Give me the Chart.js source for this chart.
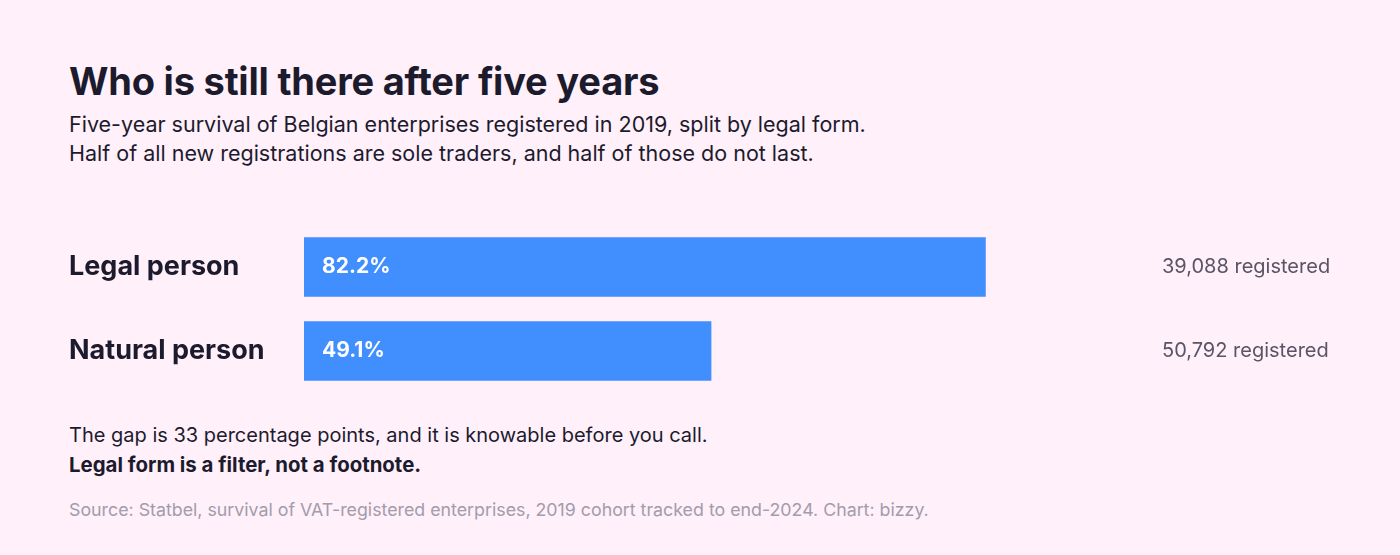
<!DOCTYPE html>
<html>
<head>
<meta charset="utf-8">
<script src="https://cdn.jsdelivr.net/npm/chart.js@4"></script>
<style>
  html, body { margin: 0; padding: 0; }
  body {
    width: 1400px; height: 555px; overflow: hidden;
    background: #fff0fa; font-family: Inter, "Noto Sans", sans-serif; color: #1c1b2e;
    position: relative;
  }
  .t { position: absolute; left: 69px; white-space: nowrap; }
  #title { top: 58px; font-size: 38px; font-weight: 700; letter-spacing: -0.2px; line-height: 46px; }
  #sub { top: 110px; font-size: 21.5px; line-height: 29px; }
  #note { top: 421px; font-size: 20px; line-height: 29px; }
  #note b { font-weight: 700; font-size: 20.4px; }
  #src { top: 499px; font-size: 17.8px; color: #a29cab; }
  #myChart { position: absolute; left: 0; top: 225px; }
</style>
</head>
<body>
<div class="t" id="title">Who is still there after five years</div>
<div class="t" id="sub">Five-year survival of Belgian enterprises registered in 2019, split by legal form.<br>Half of all new registrations are sole traders, and half of those do not last.</div>
<div class="t" id="note">The gap is 33 percentage points, and it is knowable before you call.<br><b>Legal form is a filter, not a footnote.</b></div>
<div class="t" id="src">Source: Statbel, survival of VAT-registered enterprises, 2019 cohort tracked to end-2024. Chart: bizzy.</div>
<canvas id="myChart" width="1400" height="168"></canvas>
<script>
const categories = ['Legal person', 'Natural person'];
const survival = [82.2, 49.1];
const registered = ['39,088 registered', '50,792 registered'];

// writes the % inside each bar, near its start
const barLabels = {
  id: 'barLabels',
  afterDatasetsDraw(chart) {
    const ctx = chart.ctx;
    const meta = chart.getDatasetMeta(0);
    ctx.save();
    ctx.fillStyle = '#ffffff';
    ctx.font = '700 21px Inter';
    ctx.textBaseline = 'middle';
    meta.data.forEach((bar, i) => {
      ctx.fillText(survival[i].toFixed(1) + '%', bar.base + 18, bar.y);
    });
    ctx.restore();
  }
};

// fixed axis widths, and no extra top/bottom room for the labels
function fixWidth(w) {
  return function (scale) {
    scale.width = w;
    scale.paddingTop = 0;
    scale.paddingBottom = 0;
  };
}

function draw() {
  const ctx = document.getElementById('myChart').getContext('2d');
  new Chart(ctx, {
    type: 'bar',
    data: {
      labels: categories,
      datasets: [{
        data: survival,
        backgroundColor: '#418eff',
        borderWidth: 0,
        barThickness: 59
      }]
    },
    options: {
      indexAxis: 'y',
      responsive: false,
      animation: false,
      layout: { padding: { left: 69, right: 0, top: 0, bottom: 0 } },
      plugins: { legend: { display: false }, tooltip: { enabled: false } },
      scales: {
        x: { display: false, min: 0, max: 100 },
        y: {
          position: 'left',
          border: { display: false },
          grid: { display: false, drawTicks: false },
          ticks: { crossAlign: 'far', padding: 0, color: '#1c1b2e', font: { family: 'Inter', size: 27, weight: '700' } },
          afterFit: fixWidth(235)
        },
        y2: {
          type: 'category',
          position: 'right',
          labels: registered,
          offset: true,
          border: { display: false },
          grid: { display: false, drawTicks: false },
          ticks: { crossAlign: 'near', padding: 29, color: '#5a5566', font: { family: 'Inter', size: 20 } },
          afterFit: fixWidth(267)
        }
      }
    },
    plugins: [barLabels]
  });
}

Promise.all([
  document.fonts.load('700 27px Inter'),
  document.fonts.load('400 20px Inter')
]).then(draw, draw);
</script>
</body>
</html>
